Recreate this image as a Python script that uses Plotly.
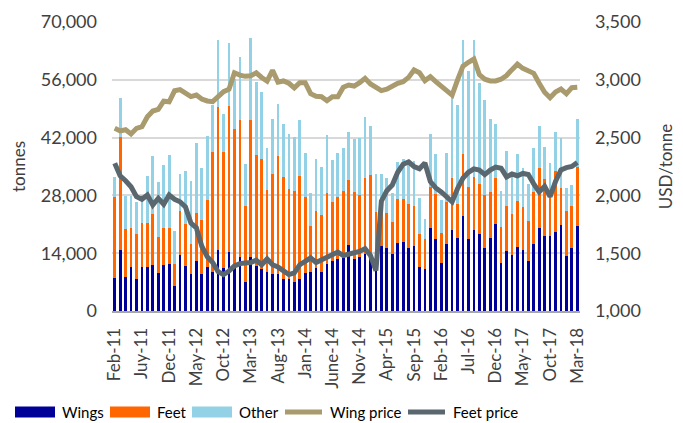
import plotly.graph_objects as go

tick_labels = ["Feb-11", "Juy-11", "Dec-11", "May-12", "Oct-12", "Mar-13", "Aug-13", "Jan-14",
               "June-14", "Nov-14", "Apr-15", "Sep-15", "Feb-16", "Jul-16", "Dec-16", "May-17",
               "Oct-17", "Mar-18"]

wings = [8000, 14700, 8200, 10600, 7800, 10700, 10600, 11200, 9300, 11200,
         11500, 6100, 13600, 11000, 9000, 12200, 9000, 10700, 9500, 14800,
         10500, 14300, 11100, 13200, 7100, 13100, 11000, 10100, 9500, 9000,
         9000, 7700, 7700, 7100, 7800, 9100, 9500, 10300, 9500, 11500,
         12200, 12500, 12800, 16000, 12500, 13200, 13700, 13800, 10600, 15700,
         15200, 13900, 16500, 16800, 15300, 15800, 10700, 10200, 20200, 17400,
         11700, 16300, 19600, 17800, 23100, 17400, 19600, 18700, 15200, 17800,
         21100, 11700, 14500, 13600, 15400, 14800, 12200, 16200, 20200, 18200,
         18100, 19200, 20900, 13400, 15200, 20700]

feet = [19700, 27500, 11700, 9400, 10800, 10600, 10700, 12300, 8700, 8900,
        8700, 5200, 10700, 10100, 7300, 11600, 13000, 16100, 29100, 34600,
        28000, 35300, 33100, 33100, 18300, 33100, 26800, 26600, 19800, 24300,
        28600, 24700, 21800, 22000, 25000, 18600, 11200, 14000, 13800, 17000,
        14300, 15200, 16300, 15700, 16300, 14900, 18600, 19100, 13400, 11200,
        8600, 7700, 10700, 10400, 10600, 9600, 7900, 7200, 9800, 11000,
        7300, 10200, 12700, 8200, 14900, 12700, 12900, 12000, 12900, 11100,
        11000, 8600, 10900, 9900, 11300, 10300, 9700, 12700, 14500, 13800,
        10000, 14800, 8800, 10800, 10200, 14200]

other = [4800, 9500, 7900, 7900, 7700, 6800, 11500, 14000, 13300, 15300,
         17600, 8100, 8900, 12900, 15200, 16900, 12700, 15700, 11300, 16300,
         9300, 15200, 11900, 15200, 10100, 19900, 17700, 16300, 10300, 13200,
         12500, 12800, 13300, 13100, 13500, 10500, 8000, 12400, 11700, 14100,
         10100, 10500, 10500, 11700, 12800, 13700, 14600, 12000, 9200, 6300,
         8300, 6900, 9000, 9600, 9700, 11000, 8800, 4900, 12900, 9600,
         8000, 11800, 19600, 23900, 27600, 28000, 33100, 24500, 23000, 17500,
         13300, 8800, 13400, 9400, 11400, 9600, 8900, 10600, 10100, 7700,
         7700, 9300, 12300, 5700, 5100, 11700]

wing_price = [2580, 2558, 2568, 2532, 2580, 2594, 2680, 2730, 2745, 2815,
              2810, 2905, 2915, 2890, 2855, 2868, 2834, 2817, 2811, 2854,
              2897, 2918, 3061, 3041, 3030, 3035, 3060, 3020, 2988, 3082,
              2980, 2990, 2970, 2930, 2975, 2975, 2880, 2858, 2854, 2819,
              2854, 2854, 2935, 2955, 2946, 2975, 3013, 2964, 2940, 2906,
              2918, 2946, 2970, 2984, 3021, 3085, 3061, 2993, 3027, 2984,
              2946, 2903, 2868, 3000, 3118, 3152, 3180, 3045, 3005, 2990,
              2990, 3005, 3037, 3088, 3135, 3099, 3078, 3056, 2970, 2892,
              2845, 2895, 2920, 2880, 2932, 2935]

feet_price = [2278, 2170, 2127, 2075, 1989, 1966, 2003, 1917, 1975, 1923,
              2003, 1966, 1945, 1900, 1760, 1720, 1560, 1470, 1420, 1340,
              1315, 1345, 1390, 1410, 1415, 1420, 1440, 1400, 1450, 1400,
              1380, 1350, 1315, 1330, 1400, 1430, 1460, 1420, 1440, 1470,
              1480, 1510, 1480, 1490, 1495, 1515, 1540, 1480, 1350, 1950,
              2040, 2090, 2200, 2270, 2290, 2250, 2230, 2280, 2120, 2065,
              2030, 1985, 1945, 2060, 2150, 2200, 2230, 2220, 2180, 2220,
              2245, 2235, 2160, 2185, 2170, 2190, 2180, 2100, 2030, 2080,
              1990, 2120, 2220, 2240, 2250, 2285]

x = list(range(len(wings)))
tick_idx = x[::5]

FONT = "Lato, 'Open Sans', sans-serif"
TXT = "#404040"
C_WINGS, C_FEET, C_OTHER = "#000099", "#FF6600", "#92D1E6"
C_WP, C_FP = "#A99B6D", "#5B676E"

# page body has an 8px default margin, so figure coords = screen coords - 8
OFF = 8
W, H = 683, 423
ML, MT = 112 - OFF, 22 - OFF
PR, PB = 580 - OFF, 311 - OFF
MR, MB = W - PR, H - PB
PW, PH = PR - ML, PB - MT


def px(xs):
    return (xs - OFF - ML) / PW


def py(ys):
    return (PB - (ys - OFF)) / PH


fig = go.Figure()
fig.add_trace(go.Bar(x=x, y=wings, name="Wings", marker_color=C_WINGS, marker_line_width=0))
fig.add_trace(go.Bar(x=x, y=feet, name="Feet", marker_color=C_FEET, marker_line_width=0))
fig.add_trace(go.Bar(x=x, y=other, name="Other", marker_color=C_OTHER, marker_line_width=0))
fig.add_trace(go.Scatter(x=x, y=wing_price, name="Wing price", yaxis="y2", mode="lines",
                         line=dict(color=C_WP, width=5)))
fig.add_trace(go.Scatter(x=x, y=feet_price, name="Feet price", yaxis="y2", mode="lines",
                         line=dict(color=C_FP, width=5)))

# Legend drawn as layout decorations (wide swatches like the original)
legend_items = [
    ("Wings", C_WINGS, "box", 15, 60),
    ("Feet", C_FEET, "box", 110, 155),
    ("Other", C_OTHER, "box", 192, 237),
    ("Wing price", C_WP, "line", 283, 328),
    ("Feet price", C_FP, "line", 406, 451),
]
shapes, annotations = [], []
LY = 412
for name, col, kind, x0, tx in legend_items:
    if kind == "box":
        shapes.append(dict(type="rect", xref="paper", yref="paper",
                           x0=px(x0), x1=px(x0 + 40), y0=py(LY + 5.5), y1=py(LY - 5.5),
                           fillcolor=col, line=dict(width=0), layer="above"))
    else:
        shapes.append(dict(type="line", xref="paper", yref="paper",
                           x0=px(x0 + 2), x1=px(x0 + 39), y0=py(LY), y1=py(LY),
                           line=dict(color=col, width=5), layer="above"))
    annotations.append(dict(text=name, xref="paper", yref="paper", x=px(tx), y=py(LY),
                            xanchor="left", yanchor="middle", showarrow=False,
                            font=dict(family=FONT, size=15, color="#000000")))

fig.update_layout(
    width=W, height=H,
    margin=dict(l=ML, r=MR, t=MT, b=MB, autoexpand=False),
    paper_bgcolor="white", plot_bgcolor="white",
    barmode="stack", bargap=0.5,
    font=dict(family=FONT, size=17, color=TXT),
    showlegend=False,
    shapes=shapes, annotations=annotations,
    xaxis=dict(range=[-0.5, len(x) - 0.5], tickmode="array", tickvals=tick_idx,
               ticktext=tick_labels, tickangle=-90, showgrid=False, zeroline=False,
               showline=True, linecolor="#A6A6A6", linewidth=2, ticks="", automargin=False,
               ticklabelstandoff=8, tickfont=dict(size=17, color=TXT)),
    yaxis=dict(range=[0, 70000], dtick=14000, tickformat=",", showgrid=True,
               gridcolor="#D9D9D9", gridwidth=2, zeroline=False, showline=False,
               automargin=False, ticklabelstandoff=14, tickfont=dict(size=18, color=TXT),
               title=dict(text="tonnes", standoff=14, font=dict(size=17, color=TXT))),
    yaxis2=dict(range=[1000, 3500], dtick=500, tickformat=",", overlaying="y", side="right",
                showgrid=False, zeroline=False, showline=False, automargin=False,
                ticklabelstandoff=14, tickfont=dict(size=18, color=TXT),
                title=dict(text="USD/tonne", standoff=20, font=dict(size=17, color=TXT))),
)

fig.write_html("out.html")
